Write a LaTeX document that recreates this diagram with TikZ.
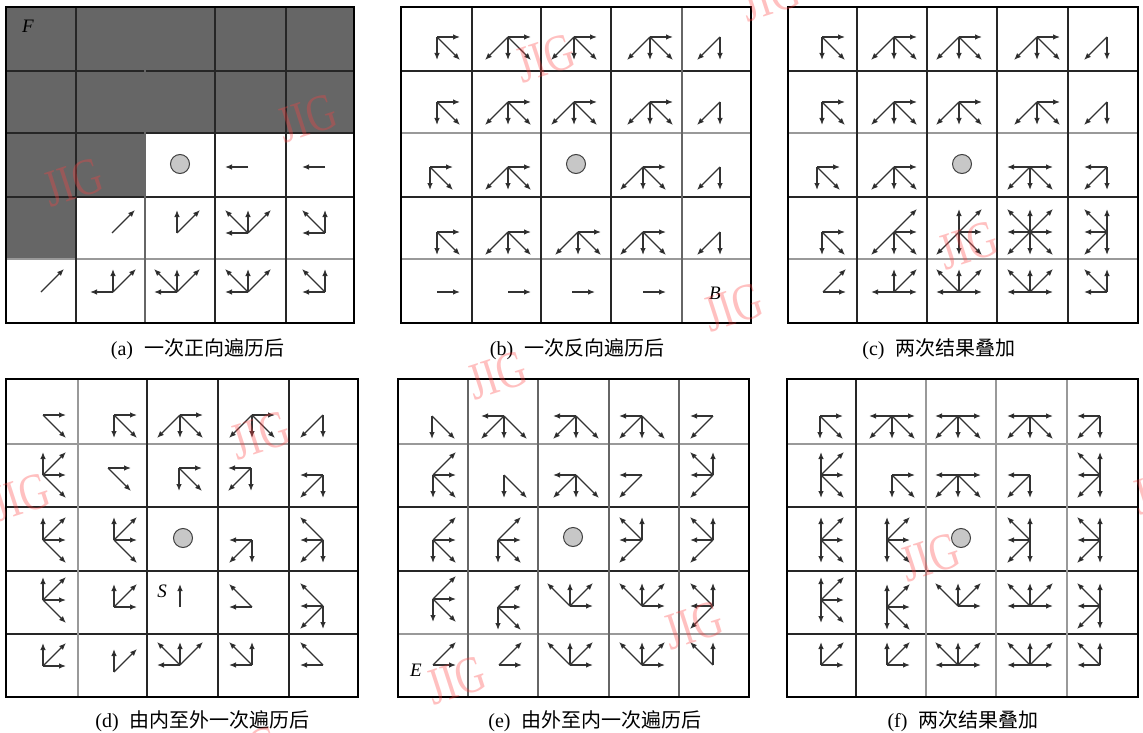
\documentclass[tikz,border=0pt]{standalone}
\usepackage{fontspec}
\setmainfont{Liberation Serif}
\newfontfamily\cjk{Noto Sans CJK SC}
\usetikzlibrary{arrows.meta}
\def\dirE{(23,0)}\def\dirW{(-23,0)}\def\dirN{(0,-23)}\def\dirS{(0,23)}
\def\dirNE{(23,-23)}\def\dirNW{(-23,-23)}\def\dirSE{(23,23)}\def\dirSW{(-23,23)}
\newcommand\arrs[3]{\foreach \dd in {#3}{\edef\tmpa{\noexpand\draw[arw] (#1,#2) -- ++\csname dir\dd\endcsname;}\tmpa}}
\begin{document}
\begin{tikzpicture}[x=1pt,y=-1pt,
  arw/.style={draw=black!80,line width=1.25pt,-{Latex[length=7pt,width=5.6pt,fill=black]}},
  circ/.style={draw=black!75,fill=black!22,line width=1pt},
  frameline/.style={draw=black,line width=2.6pt},
  gl/.style={draw=black!85,line width=1.4pt},
  gm/.style={draw=black!60,line width=1.4pt},
  gg/.style={draw=black!40,line width=1.4pt},
  wm/.style={font=\fontsize{52}{52}\selectfont,text=red!75,text opacity=0.33,rotate=18,xscale=0.78,inner sep=0},
  captxt/.style={font=\fontsize{20}{22}\selectfont,inner sep=0},
  lbl/.style={font=\fontsize{19}{20}\selectfont\itshape,inner sep=0}]
\useasboundingbox (0,0) rectangle (1143,733);
\fill[white] (0,0) rectangle (1143,733);
% ---------- panel (a)
\fill[black!60] (6,7) rectangle (354,133);
\fill[black!60] (6,133) rectangle (145,197);
\fill[black!60] (6,197) rectangle (76,259);
\draw[gl] (6,71) -- (354,71); \draw[gl] (6,133) -- (354,133);
\draw[gl] (6,197) -- (354,197); \draw[gg] (6,259) -- (354,259);
\draw[gl] (76,7) -- (76,323); \draw[gm] (145,7) -- (145,323);
\draw[gl] (215,7) -- (215,323); \draw[gl] (286,7) -- (286,323);
\draw[frameline] (6,7) rectangle (354,323);
\draw[circ] (180,164) circle[radius=9.5pt];
\arrs{248}{167}{W} \arrs{325}{167}{W}
\arrs{112}{233}{NE} \arrs{177}{233}{N,NE} \arrs{248}{233}{NW,N,NE,W} \arrs{325}{233}{NW,N,W}
\arrs{41}{292}{NE} \arrs{113}{292}{W,N,NE} \arrs{177}{292}{NW,N,NE,W} \arrs{248}{292}{NW,N,NE,W} \arrs{325}{292}{NW,N,W}
\node[lbl,text=black] (lblF) at (28,26) {F};
% ---------- panel (b)
\draw[gl] (401,71) -- (751,71); \draw[gg] (401,133) -- (751,133);
\draw[gl] (401,197) -- (751,197); \draw[gg] (401,259) -- (751,259);
\draw[gl] (472,7) -- (472,323); \draw[gl] (541,7) -- (541,323);
\draw[gl] (611,7) -- (611,323); \draw[gm] (682,7) -- (682,323);
\draw[frameline] (401,7) rectangle (751,323);
\arrs{437}{37}{E,S,SE} \arrs{508}{37}{SW,S,SE,E} \arrs{574}{37}{SW,S,SE,E} \arrs{650}{37}{SW,S,SE,E} \arrs{720}{37}{SW,S}
\arrs{437}{102}{E,S,SE} \arrs{508}{102}{SW,S,SE,E} \arrs{574}{102}{SW,S,SE,E} \arrs{650}{102}{SW,S,SE,E} \arrs{720}{102}{SW,S}
\arrs{430}{167}{E,S,SE} \arrs{508}{167}{SW,S,SE,E} \arrs{643}{167}{SW,S,SE,E} \arrs{720}{167}{SW,S}
\draw[circ] (576,164) circle[radius=9.5pt];
\arrs{437}{232}{E,S,SE} \arrs{508}{232}{SW,S,SE,E} \arrs{578}{232}{SW,S,SE,E} \arrs{643}{232}{SW,S,SE,E} \arrs{720}{232}{SW,S}
\arrs{437}{292}{E} \arrs{508}{292}{E} \arrs{572}{292}{E} \arrs{643}{292}{E}
\node[lbl] (lblB) at (715,293) {B};
% ---------- panel (c)
\draw[gl] (788,71) -- (1138,71); \draw[gg] (788,133) -- (1138,133);
\draw[gl] (788,197) -- (1138,197); \draw[gg] (788,259) -- (1138,259);
\draw[gl] (857,7) -- (857,323); \draw[gl] (927,7) -- (927,323);
\draw[gl] (997,7) -- (997,323); \draw[gl] (1068,7) -- (1068,323);
\draw[frameline] (788,7) rectangle (1138,323);
\arrs{822}{37}{E,S,SE} \arrs{894}{37}{SW,S,SE,E} \arrs{959}{37}{SW,S,SE,E} \arrs{1037}{37}{SW,S,SE,E} \arrs{1107}{37}{SW,S}
\arrs{822}{102}{E,S,SE} \arrs{894}{102}{SW,S,SE,E} \arrs{959}{102}{SW,S,SE,E} \arrs{1037}{102}{SW,S,SE,E} \arrs{1107}{102}{SW,S}
\arrs{817}{167}{E,S,SE} \arrs{894}{167}{SW,S,SE,E} \arrs{1030}{167}{W,E,SW,S,SE} \arrs{1107}{167}{W,SW,S}
\draw[circ] (962,164) circle[radius=9.5pt];
\arrs{822}{232}{E,S,SE} \arrs{894}{232}{NE,SW,S,SE,E} \arrs{959}{232}{N,NE,E,SW,S,SE} \arrs{1030}{232}{E,NE,N,NW,W,SW,S,SE} \arrs{1107}{232}{NW,N,W,SW,S}
\arrs{823}{292}{NE,E} \arrs{894}{292}{W,N,NE,E} \arrs{959}{292}{NW,N,NE,W,E} \arrs{1030}{292}{NW,N,NE,W,E} \arrs{1107}{292}{NW,N,W}
% ---------- panel (d)
\draw[gg] (6,444) -- (358,444); \draw[gl] (6,507) -- (358,507);
\draw[gl] (6,571) -- (358,571); \draw[gl] (6,634) -- (358,634);
\draw[gg] (78,379) -- (78,697); \draw[gl] (147,379) -- (147,697);
\draw[gl] (218,379) -- (218,697); \draw[gl] (289,379) -- (289,697);
\draw[frameline] (6,379) rectangle (358,697);
\arrs{43}{415}{E,SE} \arrs{114}{415}{E,S,SE} \arrs{180}{415}{SW,S,SE,E} \arrs{252}{415}{SW,S,SE,E} \arrs{323}{415}{SW,S}
\arrs{43}{475}{N,NE,E,SE} \arrs{108}{468}{E,SE} \arrs{179}{468}{E,S,SE} \arrs{251}{468}{W,SW,S} \arrs{323}{475}{W,SW,S}
\arrs{43}{540}{N,NE,E,SE} \arrs{114}{540}{N,NE,E,SE} \arrs{252}{540}{W,SW,S} \arrs{323}{540}{NW,W,SW,S}
\draw[circ] (183,538) circle[radius=9.5pt];
\arrs{43}{600}{N,NE,E,SE} \arrs{114}{607}{N,NE,E} \arrs{180}{607}{N} \arrs{252}{607}{NW,W} \arrs{323}{606}{NW,W,SW,S}
\arrs{43}{666}{N,NE,E} \arrs{114}{672}{N,NE} \arrs{180}{665}{NW,N,NE,W} \arrs{252}{665}{NW,N,W} \arrs{323}{665}{NW,W}
\node[lbl] (lblS) at (162,591) {S};
% ---------- panel (e)
\draw[gg] (398,444) -- (749,444); \draw[gl] (398,507) -- (749,507);
\draw[gl] (398,571) -- (749,571); \draw[gg] (398,634) -- (749,634);
\draw[gm] (468,379) -- (468,697); \draw[gm] (538,379) -- (538,697);
\draw[gm] (609,379) -- (609,697); \draw[gm] (679,379) -- (679,697);
\draw[frameline] (398,379) rectangle (749,697);
\arrs{432}{416}{S,SE} \arrs{504}{416}{W,SW,S,SE} \arrs{576}{416}{W,SW,S,SE} \arrs{642}{416}{W,SW,S,SE} \arrs{713}{416}{W,SW}
\arrs{433}{475}{NE,E,S,SE} \arrs{504}{475}{S,SE} \arrs{576}{475}{W,SW,S,SE} \arrs{642}{475}{W,SW} \arrs{713}{475}{NW,N,W,SW}
\arrs{433}{540}{NE,E,S,SE} \arrs{498}{540}{NE,E,S,SE} \arrs{642}{540}{NW,N,W,SW} \arrs{713}{540}{NW,N,W,SW}
\draw[circ] (573,537) circle[radius=9.5pt];
\arrs{433}{599}{NE,E,S,SE} \arrs{498}{607}{NE,E,S,SE} \arrs{570}{606}{NW,N,NE,E} \arrs{642}{606}{NW,N,NE,E} \arrs{713}{606}{NW,N,W,SW}
\arrs{433}{665}{NE,E} \arrs{499}{665}{NE,E} \arrs{570}{665}{NW,N,NE,E} \arrs{642}{665}{NW,N,NE,E} \arrs{713}{665}{NW,N}
\node[lbl] (lblE) at (416,670) {E};
% ---------- panel (f)
\draw[gg] (787,444) -- (1138,444); \draw[gl] (787,507) -- (1138,507);
\draw[gl] (787,571) -- (1138,571); \draw[gl] (787,634) -- (1138,634);
\draw[gl] (856,379) -- (856,697); \draw[gg] (926,379) -- (926,697);
\draw[gg] (996,379) -- (996,697); \draw[gg] (1067,379) -- (1067,697);
\draw[frameline] (787,379) rectangle (1138,697);
\arrs{820}{416}{E,S,SE} \arrs{892}{416}{W,E,SW,S,SE} \arrs{958}{416}{W,E,SW,S,SE} \arrs{1030}{416}{W,E,SW,S,SE} \arrs{1100}{416}{W,SW,S}
\arrs{821}{475}{N,NE,E,S,SE} \arrs{892}{475}{E,S,SE} \arrs{958}{475}{W,E,SW,S,SE} \arrs{1030}{475}{W,SW,S} \arrs{1100}{475}{NW,N,W,SW,S}
\arrs{821}{540}{N,NE,E,S,SE} \arrs{887}{540}{N,NE,E,S,SE} \arrs{1030}{540}{NW,N,W,SW,S} \arrs{1100}{540}{NW,N,W,SW,S}
\draw[circ] (961,538) circle[radius=9.5pt];
\arrs{821}{600}{N,NE,E,S,SE} \arrs{887}{607}{N,NE,E,S,SE} \arrs{958}{606}{NW,N,NE,E} \arrs{1030}{606}{NW,N,NE,W,E} \arrs{1100}{606}{NW,N,W,SW,S}
\arrs{821}{665}{N,NE,E} \arrs{887}{665}{N,NE,E} \arrs{958}{665}{NW,N,NE,W,E} \arrs{1030}{665}{NW,N,NE,W,E} \arrs{1100}{665}{NW,N,W}
% ---------- captions
\node[captxt] (capa) at (197.5,349) {(a)\hspace{11pt}{\cjk 一次正向遍历后}};
\node[captxt] (capb) at (577,349) {(b)\hspace{11pt}{\cjk 一次反向遍历后}};
\node[captxt] (capc) at (939,349) {(c)\hspace{11pt}{\cjk 两次结果叠加}};
\node[captxt] (capd) at (202.5,721) {(d)\hspace{11pt}{\cjk 由内至外一次遍历后}};
\node[captxt] (cape) at (595,721) {(e)\hspace{11pt}{\cjk 由外至内一次遍历后}};
\node[captxt] (capf) at (963,721) {(f)\hspace{11pt}{\cjk 两次结果叠加}};
% ---------- watermarks
\foreach \wx/\wy [count=\i] in {307/118,73/182,545/58,770/-3,733/307,968/245,20/497,260/435,250/750,497/375,693/625,456/680,930/557,1162/490}
  \node[wm] (wm\i) at (\wx,\wy) {JIG};
\end{tikzpicture}
\end{document}
